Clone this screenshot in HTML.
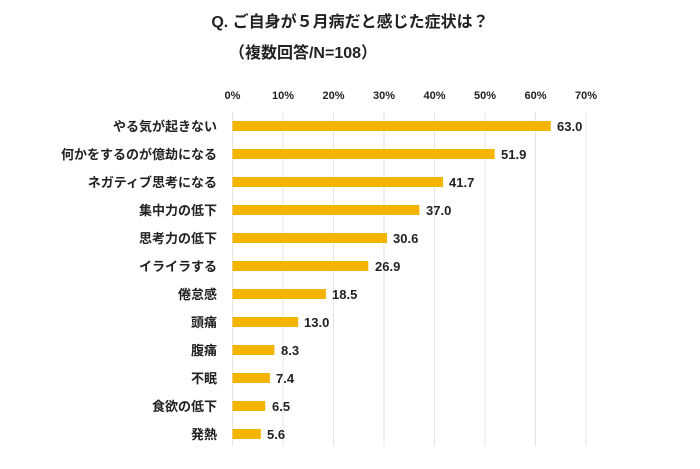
<!DOCTYPE html>
<html><head><meta charset="utf-8"><style>
body{margin:0;background:#fff;}
svg text{font-family:"Liberation Sans","Noto Sans CJK JP",sans-serif;fill:#222;}
</style></head><body>
<svg width="700" height="464" xmlns="http://www.w3.org/2000/svg">
<text x="350" y="27" font-size="16" font-weight="bold" text-anchor="middle">Q. ご自身が５月病だと感じた症状は？</text>
<text x="303" y="58" font-size="16" font-weight="bold" text-anchor="middle">（複数回答/N=108）</text>
<g font-size="11" font-weight="bold" text-anchor="middle">
<text x="232.5" y="99">0%</text><text x="283" y="99">10%</text><text x="333.5" y="99">20%</text><text x="384" y="99">30%</text><text x="434.5" y="99">40%</text><text x="485" y="99">50%</text><text x="535.5" y="99">60%</text><text x="586" y="99">70%</text>
</g>
<g stroke="#e3e3e3" stroke-width="1">
<line x1="232.5" y1="112" x2="232.5" y2="446"/><line x1="283" y1="112" x2="283" y2="446"/><line x1="333.5" y1="112" x2="333.5" y2="446"/><line x1="384" y1="112" x2="384" y2="446"/><line x1="434.5" y1="112" x2="434.5" y2="446"/><line x1="485" y1="112" x2="485" y2="446"/><line x1="535.5" y1="112" x2="535.5" y2="446"/><line x1="586" y1="112" x2="586" y2="446"/>
</g>
<g fill="#F5B400">
<rect x="232.5" y="121" width="318.2" height="10"/>
<rect x="232.5" y="149" width="262.1" height="10"/>
<rect x="232.5" y="177" width="210.6" height="10"/>
<rect x="232.5" y="205" width="186.9" height="10"/>
<rect x="232.5" y="233" width="154.5" height="10"/>
<rect x="232.5" y="261" width="135.8" height="10"/>
<rect x="232.5" y="289" width="93.4" height="10"/>
<rect x="232.5" y="317" width="65.7" height="10"/>
<rect x="232.5" y="345" width="41.9" height="10"/>
<rect x="232.5" y="373" width="37.4" height="10"/>
<rect x="232.5" y="401" width="32.8" height="10"/>
<rect x="232.5" y="429" width="28.3" height="10"/>
</g>
<g font-size="13" font-weight="bold">
<text x="557" y="131">63.0</text><text x="501" y="159">51.9</text><text x="449" y="187">41.7</text><text x="426" y="215">37.0</text><text x="393" y="243">30.6</text><text x="375" y="271">26.9</text><text x="332" y="299">18.5</text><text x="304" y="327">13.0</text><text x="281" y="355">8.3</text><text x="276" y="383">7.4</text><text x="272" y="411">6.5</text><text x="267" y="439">5.6</text>
</g>
<g font-size="13" font-weight="bold" text-anchor="end">
<text x="217" y="131">やる気が起きない</text><text x="217" y="159">何かをするのが億劫になる</text><text x="217" y="187">ネガティブ思考になる</text><text x="217" y="215">集中力の低下</text><text x="217" y="243">思考力の低下</text><text x="217" y="271">イライラする</text><text x="217" y="299">倦怠感</text><text x="217" y="327">頭痛</text><text x="217" y="355">腹痛</text><text x="217" y="383">不眠</text><text x="217" y="411">食欲の低下</text><text x="217" y="439">発熱</text>
</g>
</svg>
</body></html>
